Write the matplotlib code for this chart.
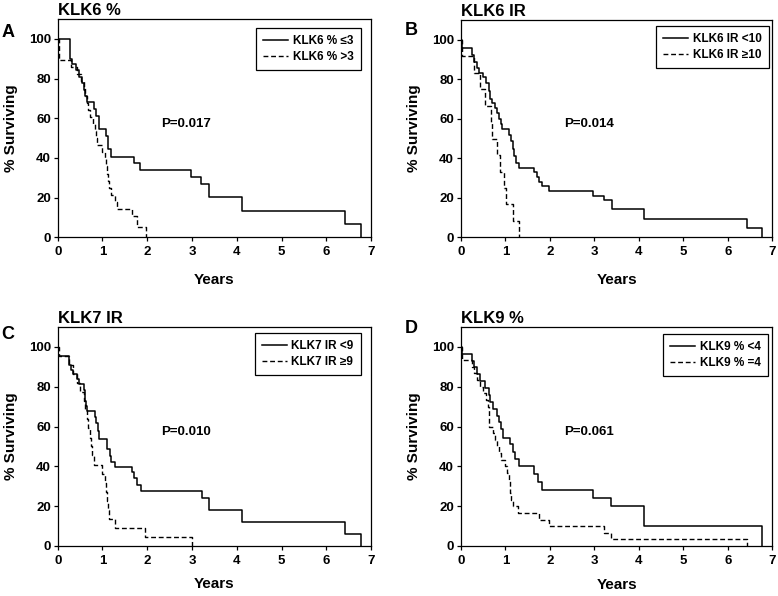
# Curvas de supervivencia Kaplan-Meier, cuatro paneles.

import matplotlib.pyplot as plt

plt.rcParams['font.family'] = ['Liberation Sans', 'DejaVu Sans']
plt.rcParams['font.weight'] = 'bold'

# Datos (anos, % sobreviviendo).

a_low_t = [0, 0.28, 0.33, 0.40, 0.48, 0.55, 0.58, 0.62, 0.65, 0.80, 0.86, 0.92, 1.07, 1.13, 1.18, 1.70, 1.83, 2.97, 3.21, 3.38, 4.12, 6.42, 6.77]
a_low_s = [100, 90, 87.5, 84.5, 81, 78, 74, 71, 68, 64.5, 61, 54.5, 51, 44.5, 40.6, 37.3, 33.8, 30.4, 27, 20.3, 13.5, 6.8, 0]
a_high_t = [0, 0.02, 0.30, 0.42, 0.52, 0.58, 0.62, 0.66, 0.68, 0.72, 0.78, 0.83, 0.86, 0.88, 0.99, 1.06, 1.08, 1.10, 1.12, 1.14, 1.20, 1.27, 1.33, 1.65, 1.77, 1.97]
a_high_s = [100, 89.3, 85.7, 82.1, 78.6, 75, 71.4, 67.9, 64.3, 60.7, 57.1, 53.6, 50, 46.4, 42.9, 39.3, 35.7, 32.1, 28.6, 25, 21.4, 17.9, 14.3, 10.7, 5.4, 0]

b_low_t = [0, 0.02, 0.25, 0.30, 0.35, 0.40, 0.50, 0.57, 0.62, 0.65, 0.70, 0.77, 0.82, 0.86, 0.90, 0.93, 1.07, 1.12, 1.16, 1.20, 1.23, 1.30, 1.65, 1.70, 1.75, 1.82, 1.97, 2.97, 3.21, 3.40, 4.12, 6.42, 6.77]
b_low_s = [100, 96, 92.5, 89, 85.5, 83, 81, 78, 74, 70, 68, 65.5, 63, 60, 57.5, 55, 52, 49, 44.5, 41, 37.5, 35.3, 33, 30.5, 28, 26, 23.5, 21, 18.8, 14.1, 9.4, 4.7, 0]
b_high_t = [0, 0.02, 0.30, 0.43, 0.54, 0.68, 0.70, 0.81, 0.88, 0.97, 1.02, 1.17, 1.30]
b_high_s = [100, 91.7, 83.3, 75, 66.7, 58.3, 50, 41.7, 33.3, 25, 16.7, 8.3, 0]

c_low_t = [0, 0.01, 0.26, 0.30, 0.35, 0.42, 0.48, 0.58, 0.60, 0.62, 0.64, 0.66, 0.83, 0.86, 0.90, 0.93, 1.11, 1.16, 1.19, 1.27, 1.65, 1.70, 1.76, 1.85, 3.22, 3.38, 4.12, 6.42, 6.77]
c_low_s = [100, 95.2, 91, 88.6, 86.5, 84, 81.5, 78.5, 75.5, 73, 70.5, 67.8, 65, 62, 58, 53.8, 48.5, 45, 42.4, 39.7, 37, 34, 30.5, 27.5, 24.3, 18.2, 12.2, 6.1, 0]
c_high_t = [0, 0.02, 0.26, 0.35, 0.42, 0.50, 0.58, 0.62, 0.66, 0.68, 0.71, 0.75, 0.77, 0.80, 1.00, 1.06, 1.08, 1.10, 1.12, 1.15, 1.27, 1.96, 3.00]
c_high_s = [100, 95.5, 90.9, 86.4, 81.8, 77.3, 72.7, 68.2, 63.6, 59.1, 54.5, 50, 45.5, 40.9, 36.4, 31.8, 27.3, 22.7, 18.2, 13.6, 9.1, 4.5, 0]

d_low_t = [0, 0.02, 0.25, 0.30, 0.36, 0.42, 0.55, 0.62, 0.66, 0.72, 0.80, 0.86, 0.90, 0.95, 1.10, 1.18, 1.22, 1.30, 1.65, 1.72, 1.83, 2.97, 3.38, 4.12, 6.77]
d_low_s = [100, 96.6, 93.1, 89.7, 86.2, 82.8, 79.3, 75.9, 72.4, 69, 65.5, 62.1, 58.6, 54.5, 51, 47, 43.5, 40, 36, 32, 28, 24, 20, 10, 0]
d_high_t = [0, 0.02, 0.25, 0.30, 0.36, 0.42, 0.50, 0.56, 0.60, 0.62, 0.64, 0.72, 0.76, 0.80, 0.85, 0.90, 0.98, 1.03, 1.07, 1.10, 1.13, 1.18, 1.28, 1.75, 1.97, 3.22, 3.38, 6.42]
d_high_s = [100, 93.3, 90, 86.7, 83.3, 80, 76.7, 73.3, 70, 66.7, 60, 56.7, 53.3, 50, 46.7, 43.3, 40, 36.7, 33.3, 26.7, 23.3, 20, 16.7, 13.3, 10, 6.7, 3.3, 0]

titulos = ['KLK6 %', 'KLK6 IR', 'KLK7 IR', 'KLK9 %']
letras = ['A', 'B', 'C', 'D']
etiquetas = [['KLK6 % \u22643', 'KLK6 % >3'],
             ['KLK6 IR <10', 'KLK6 IR \u226510'],
             ['KLK7 IR <9', 'KLK7 IR \u22659'],
             ['KLK9 % <4', 'KLK9 % =4']]
pvalores = ['P=0.017', 'P=0.014', 'P=0.010', 'P=0.061']

curvas = [(a_low_t, a_low_s, a_high_t, a_high_s),
          (b_low_t, b_low_s, b_high_t, b_high_s),
          (c_low_t, c_low_s, c_high_t, c_high_s),
          (d_low_t, d_low_s, d_high_t, d_high_s)]

# Posiciones de los ejes (fraccion de figura).

posiciones = [[0.0742, 0.6018, 0.4027, 0.3663],
              [0.5925, 0.6018, 0.4004, 0.3646],
              [0.0742, 0.0839, 0.4027, 0.3674],
              [0.5925, 0.0839, 0.4004, 0.3674]]

leyenda_pos = [(0.967, 0.957), (0.988, 0.972), (0.967, 0.971), (0.985, 0.968)]
letra_pos = [(0.0107, 0.9384), (0.529, 0.9413), (0.0096, 0.4312), (0.528, 0.4418)]
xlabel_y = [-0.165, -0.165, -0.14, -0.145]

fig = plt.figure( figsize = ( 7.78 , 5.96 ) , dpi = 100 )

for i in range( 4 ) :

    ax = fig.add_axes( posiciones[ i ] )

    t1 , s1 , t2 , s2 = curvas[ i ]

    ax.step( t1 , s1 , where = 'post' , color = 'k' , linewidth = 1.1 , label = etiquetas[ i ][ 0 ] )

    ax.step( t2 , s2 , where = 'post' , color = 'k' , linewidth = 1.0 , linestyle = ( 0 , ( 3.5 , 2 ) ) , label = etiquetas[ i ][ 1 ] )

    ax.set_xlim( 0 , 7 )

    ax.set_ylim( 0 , 110 )

    ax.set_xticks( range( 0 , 8 ) )

    ax.set_yticks( range( 0 , 101 , 20 ) )

    ax.tick_params( direction = 'out' , length = 3 , width = 0.9 , labelsize = 9.5 , pad = 2 )

    ax.tick_params( axis = 'x' , pad = 3.5 )

    for sp in ax.spines.values( ) :

        sp.set_linewidth( 0.9 )

    ax.set_xlabel( 'Years' , fontsize = 11 , fontweight = 'bold' )

    ax.xaxis.set_label_coords( 0.5 , xlabel_y[ i ] )

    ax.set_ylabel( '% Surviving' , fontsize = 11 , fontweight = 'bold' )

    ax.yaxis.set_label_coords( -0.127 , 0.5 )

    ax.text( 0 , 1.018 , titulos[ i ] , transform = ax.transAxes , fontsize = 12 , fontweight = 'bold' , va = 'baseline' , ha = 'left' )

    ax.text( 0.41 , 0.52 , pvalores[ i ] , transform = ax.transAxes , fontsize = 9.5 , fontweight = 'bold' , ha = 'center' , va = 'center' )

    leg = ax.legend( loc = 'upper right' , bbox_to_anchor = leyenda_pos[ i ] , borderaxespad = 0 ,
                     fancybox = False , edgecolor = 'k' , framealpha = 1 , fontsize = 8.5 ,
                     handlelength = 2.1 , handletextpad = 0.4 , borderpad = 0.6 , labelspacing = 0.3 )

    leg.get_frame( ).set_linewidth( 0.9 )

    fig.text( letra_pos[ i ][ 0 ] , letra_pos[ i ][ 1 ] , letras[ i ] , fontsize = 13 , fontweight = 'bold' , ha = 'center' , va = 'baseline' )

plt.savefig( 'out.png' , dpi = 100 )
